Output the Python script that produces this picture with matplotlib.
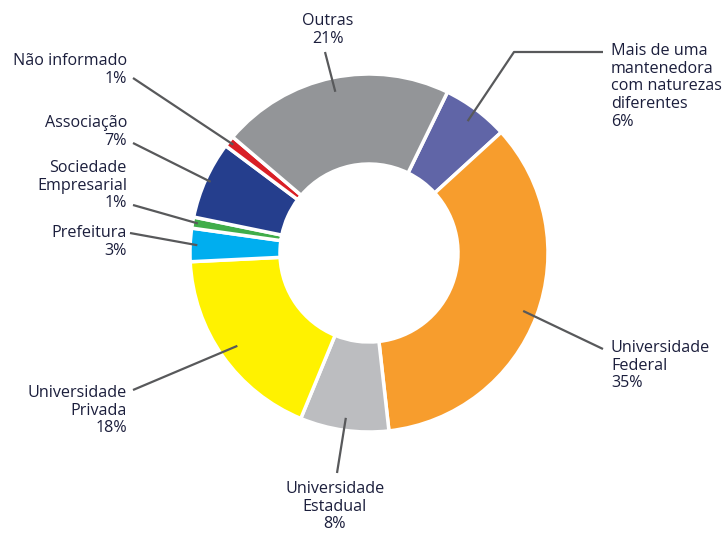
import numpy as np
import matplotlib.pyplot as plt

# Mantenedoras - participação (%)
categorias = ["Mais de uma\nmantenedora\ncom naturezas\ndiferentes", "Universidade\nFederal",
              "Universidade\nEstadual", "Universidade\nPrivada", "Prefeitura",
              "Sociedade\nEmpresarial", "Associação", "Não informado", "Outras"]
valores = [6, 35, 8, 18, 3, 1, 7, 1, 21]
cores = ["#6065a7", "#f79d2d", "#bcbdc0", "#fff200", "#00aeef",
         "#40ad4a", "#253e8d", "#d91f26", "#939598"]

W, H = 723, 533
cx, cy = 369, H - 253
R = 179

fig = plt.figure(figsize=(W / 100, H / 100), dpi=100)
ax = fig.add_axes([0, 0, 1, 1])

wedges, _ = ax.pie(valores, colors=cores, center=(cx, cy), radius=R,
                   startangle=64, counterclock=False,
                   wedgeprops=dict(width=90, edgecolor="white", linewidth=2.5))
ax.set_xlim(0, W)
ax.set_ylim(0, H)
ax.set_aspect("equal")
ax.axis("off")

# posição do texto (px), alinhamento, pontos da linha guia (px) e raio da ponta
layout = [
    ((611, 43), "left", [(603, 52), (514, 52)], 0.92),
    ((611, 340), "left", [(603, 349)], 0.92),
    ((335, 481), "center", [(337, 473)], 0.93),
    ((127, 385), "right", [(133, 390)], 0.90),
    ((127, 225), "right", [(130, 233)], 0.96),
    ((127, 160), "right", [(133, 205)], 0.97),
    ((127, 115), "right", [(133, 143)], 0.97),
    ((127, 53), "right", [(133, 78)], 0.97),
    ((328, 13), "center", [(325, 52)], 0.92),
]

for w, nome, v, (pos, ha, pts, rf) in zip(wedges, categorias, valores, layout):
    meio = np.deg2rad((w.theta1 + w.theta2) / 2)
    ponta = (cx + rf * R * np.cos(meio), cy + rf * R * np.sin(meio))
    xs = [p[0] for p in pts] + [ponta[0]]
    ys = [H - p[1] for p in pts] + [ponta[1]]
    ax.plot(xs, ys, color="#58595b", lw=1.6, solid_capstyle="butt")
    ax.text(pos[0], H - pos[1], f"{nome}\n{v}%", ha=ha, va="top",
            multialignment=ha, fontsize=11.6, family="Open Sans",
            color="#1b1e3c", linespacing=1.14)

fig.savefig("out.png", dpi=100)
